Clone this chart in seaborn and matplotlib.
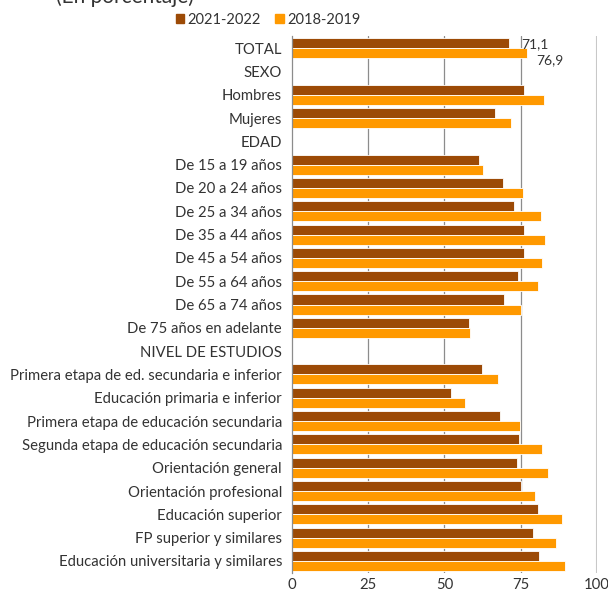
import pandas as pd
import numpy as np
import matplotlib
matplotlib.use("Agg")
import matplotlib.pyplot as plt
import seaborn as sns

categories = [
    "TOTAL", "SEXO", "Hombres", "Mujeres", "EDAD",
    "De 15 a 19 años", "De 20 a 24 años", "De 25 a 34 años", "De 35 a 44 años",
    "De 45 a 54 años", "De 55 a 64 años", "De 65 a 74 años", "De 75 años en adelante",
    "NIVEL DE ESTUDIOS",
    "Primera etapa de ed. secundaria e inferior",
    "Educación primaria e inferior",
    "Primera etapa de educación secundaria",
    "Segunda etapa de educación secundaria",
    "Orientación general",
    "Orientación profesional",
    "Educación superior",
    "FP superior y similares",
    "Educación universitaria y similares",
]
v_2021 = [71.1, np.nan, 76.0, 66.7, np.nan,
          61.2, 69.2, 72.7, 76.0, 76.0, 74.2, 69.6, 57.9,
          np.nan,
          62.4, 52.1, 68.2, 74.3, 73.9, 75.0, 80.5, 79.1, 81.0]
v_2018 = [76.9, np.nan, 82.5, 71.9, np.nan,
          62.7, 75.8, 81.6, 82.8, 81.8, 80.5, 75.2, 58.5,
          np.nan,
          67.7, 56.8, 74.9, 82.0, 83.8, 79.6, 88.5, 86.5, 89.4]
periods = ["2021-2022", "2018-2019"]
colors = ["#9C4A06", "#FF9900"]

df = pd.concat([
    pd.DataFrame({"cat": categories, "valor": v_2021, "periodo": periods[0]}),
    pd.DataFrame({"cat": categories, "valor": v_2018, "periodo": periods[1]}),
], ignore_index=True)

sns.set_style("white")
plt.rcParams["font.family"] = ["Lato", "DejaVu Sans"]

fig = plt.figure(figsize=(6.08, 5.94), dpi=100)
ax = fig.add_axes([0.480, 0.036, 0.502, 0.9027])

sns.barplot(data=df, x="valor", y="cat", hue="periodo", order=categories,
            hue_order=periods, palette=colors, saturation=1, orient="h", width=0.86,
            errorbar=None, edgecolor="white", linewidth=0.6, ax=ax, legend=False)

ax.set_xlim(0, 100)
ax.set_xticks([0, 25, 50, 75, 100])
ax.set_xlabel("")
ax.set_ylabel("")
for x in [25, 50, 75]:
    ax.axvline(x, color="#8c8c8c", lw=0.9, zorder=0)
ax.axvline(100, color="#c8c8c8", lw=1.5, zorder=0)
for s in ["top", "right", "bottom"]:
    ax.spines[s].set_visible(False)
ax.spines["left"].set_color("#8c8c8c")
ax.spines["left"].set_linewidth(0.9)
ax.tick_params(axis="y", length=0, pad=7, labelsize=10.7, labelcolor="#333333")
ax.tick_params(axis="x", length=0, pad=4, labelsize=10.7, labelcolor="#333333")

# etiquetas del total
ax.annotate(f"{v_2021[0]:.1f}".replace(".", ","), (v_2021[0], 0), xytext=(9, 3),
            textcoords="offset points", va="center", fontsize=10, color="#333333")
ax.annotate(f"{v_2018[0]:.1f}".replace(".", ","), (v_2018[0], 0), xytext=(7, -9),
            textcoords="offset points", va="center", fontsize=10, color="#333333")

handles = [plt.Rectangle((0, 0), 1, 1, color=c) for c in colors]
fig.legend(handles, periods, loc="center", bbox_to_anchor=(268 / 608, 1 - 20 / 594),
           ncol=2, frameon=False, fontsize=10.5, handlelength=0.6, handleheight=0.6,
           handletextpad=0.2, columnspacing=1.0, labelcolor="#333333")

fig.text(125 / 608, 1 - 7 / 594, "(En porcentaje)", ha="center", va="bottom",
         fontsize=15, color="#333333")

fig.savefig("out.png", dpi=100)
